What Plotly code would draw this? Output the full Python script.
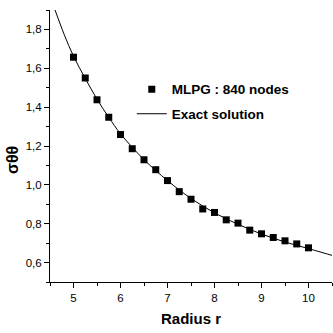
import plotly.graph_objects as go

# MLPG numerical results (840 nodes)
r_mlpg = [5.0, 5.25, 5.5, 5.75, 6.0, 6.25, 6.5, 6.75, 7.0, 7.25, 7.5,
          7.75, 8.0, 8.25, 8.5, 8.75, 9.0, 9.25, 9.5, 9.75, 10.0]
s_mlpg = [1.657, 1.550, 1.438, 1.348, 1.259, 1.186, 1.129, 1.078, 1.022, 0.965, 0.926,
          0.876, 0.858, 0.820, 0.803, 0.767, 0.748, 0.729, 0.712, 0.696, 0.676]

# Exact solution
r_exact = [4.6, 4.8, 5.0, 5.25, 5.5, 5.75, 6.0, 6.5, 7.0, 7.5, 8.0, 8.5, 9.0, 9.5, 10.0, 10.6]
s_exact = [1.905, 1.775, 1.662, 1.548, 1.441, 1.348, 1.263, 1.130, 1.022, 0.930, 0.856,
           0.797, 0.747, 0.706, 0.672, 0.630]

y_ticks = [0.6, 0.8, 1.0, 1.2, 1.4, 1.6, 1.8]
x_ticks = [5, 6, 7, 8, 9, 10]

FONT = "Liberation Sans Narrow, Arial Narrow, Liberation Sans, Arial, sans-serif"

fig = go.Figure()
fig.add_trace(go.Scatter(
    x=r_mlpg, y=s_mlpg, mode="markers", name="<b>MLPG : 840 nodes</b>",
    legendgroup="mlpg",
    marker=dict(symbol="square", size=7, color="black"),
))
fig.add_trace(go.Scatter(
    x=r_exact, y=s_exact, mode="lines", name="<b>Exact solution</b>",
    legendgroup="exact",
    line=dict(color="black", width=1, shape="spline"),
))

fig.update_layout(
    width=333, height=333,
    margin=dict(l=50, r=1, t=10, b=51),
    paper_bgcolor="white", plot_bgcolor="white",
    separators=",.",
    font=dict(family=FONT, size=11.5, color="black"),
    legend=dict(x=0.29, y=0.765, xanchor="left", yanchor="top",
                bgcolor="rgba(0,0,0,0)", font=dict(size=13.5, family=FONT),
                tracegroupgap=4),
    showlegend=True,
)
fig.update_xaxes(
    range=[4.5, 10.5], tickvals=x_ticks, showgrid=False, zeroline=False,
    showline=True, linecolor="black", linewidth=1,
    ticks="outside", ticklen=5, tickcolor="black",
    minor=dict(ticks="outside", dtick=0.5, tick0=4.5, ticklen=3, tickcolor="black"),
    title=dict(text="<b>Radius r</b>", font=dict(size=15, family=FONT), standoff=10),
)
fig.update_yaxes(
    range=[0.5, 1.9], tickvals=y_ticks, tickformat=".1f", showgrid=False, zeroline=False,
    showline=True, linecolor="black", linewidth=1,
    ticks="outside", ticklen=5, tickcolor="black",
    minor=dict(ticks="outside", dtick=0.1, tick0=0.5, ticklen=3, tickcolor="black"),
)
fig.add_annotation(
    text="<b>σθθ</b>", xref="paper", yref="paper", showarrow=False,
    x=(12 - 50) / 282, y=(282 - 160) / 272, xanchor="center", yanchor="middle",
    textangle=-90, font=dict(size=16, family=FONT),
)

fig.write_html("out.html")
